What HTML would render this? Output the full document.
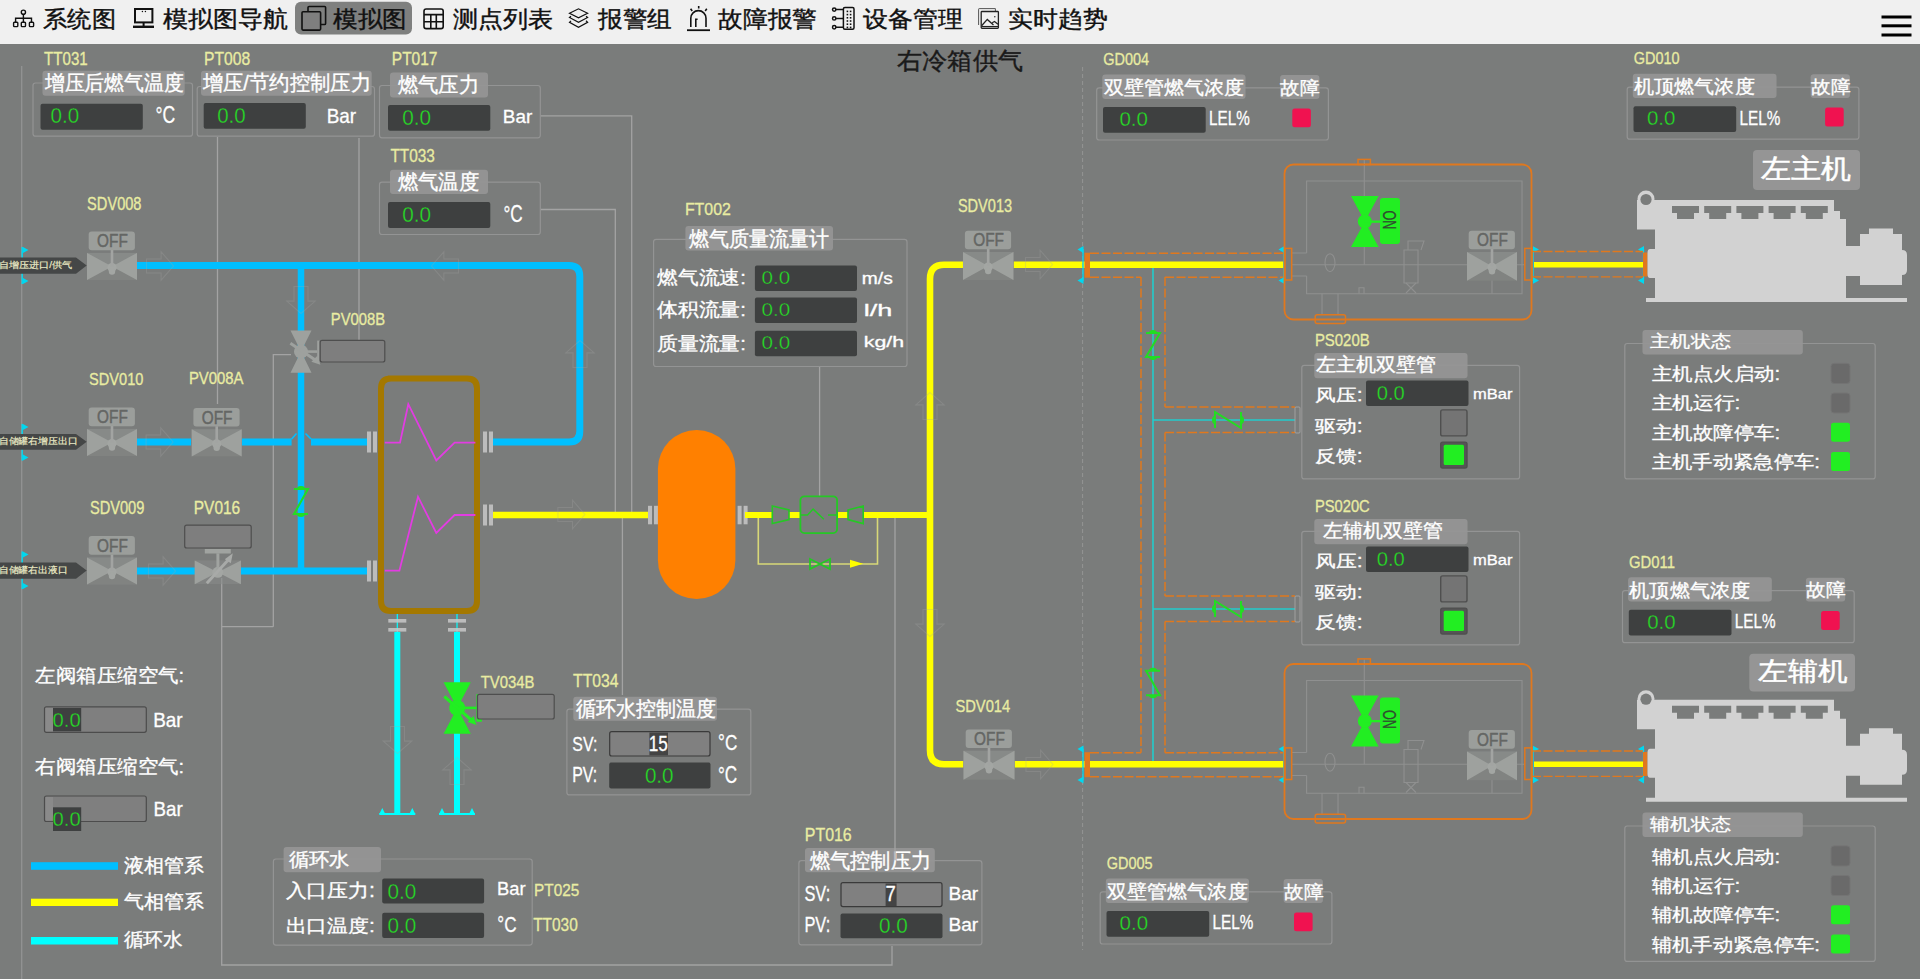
<!DOCTYPE html><html><head><meta charset="utf-8"><style>html,body{margin:0;padding:0;overflow:hidden;background:#7b7b7b}svg{display:block}</style></head><body><svg width="1920" height="979" viewBox="0 0 1920 979" font-family='"Liberation Sans", sans-serif'><rect x="0" y="0" width="1920" height="979" fill="#7a7c7b"/>
<rect x="0.0" y="0.0" width="1920.0" height="44.0" fill="#f0f0f0" />
<rect x="295.0" y="1.8" width="117.0" height="32.8" fill="#7f807f" rx="6" />
<text x="43.2" y="27.0" font-size="22.67" fill="#111" textLength="72.8" lengthAdjust="spacingAndGlyphs" stroke="#111" stroke-width="0.40" >系统图</text>
<text x="162.5" y="27.0" font-size="22.67" fill="#111" textLength="125.1" lengthAdjust="spacingAndGlyphs" stroke="#111" stroke-width="0.40" >模拟图导航</text>
<text x="333.1" y="27.0" font-size="22.67" fill="#111" textLength="73.7" lengthAdjust="spacingAndGlyphs" stroke="#111" stroke-width="0.40" >模拟图</text>
<text x="452.5" y="27.0" font-size="22.67" fill="#111" textLength="100.5" lengthAdjust="spacingAndGlyphs" stroke="#111" stroke-width="0.40" >测点列表</text>
<text x="598.1" y="27.0" font-size="22.67" fill="#111" textLength="73.9" lengthAdjust="spacingAndGlyphs" stroke="#111" stroke-width="0.40" >报警组</text>
<text x="718.0" y="27.0" font-size="22.67" fill="#111" textLength="99.0" lengthAdjust="spacingAndGlyphs" stroke="#111" stroke-width="0.40" >故障报警</text>
<text x="863.2" y="27.0" font-size="22.67" fill="#111" textLength="99.8" lengthAdjust="spacingAndGlyphs" stroke="#111" stroke-width="0.40" >设备管理</text>
<text x="1008.1" y="27.0" font-size="22.67" fill="#111" textLength="99.5" lengthAdjust="spacingAndGlyphs" stroke="#111" stroke-width="0.40" >实时趋势</text>
<rect x="1881.5" y="15.5" width="30.0" height="3.0" fill="#000" />
<rect x="1881.5" y="24.3" width="30.0" height="3.0" fill="#000" />
<rect x="1881.5" y="33.5" width="30.0" height="3.0" fill="#000" />
<text x="897.2" y="69.1" font-size="24.00" fill="#1a1a1a" textLength="125.6" lengthAdjust="spacingAndGlyphs" stroke="#1a1a1a" stroke-width="0.42" >右冷箱供气</text>
<g stroke="#111" fill="none" stroke-width="1.4"><circle cx="23.4" cy="12.2" r="2.1"/><path d="M23.4,14.3 V18.3 M15.6,22.3 V18.3 H31.5 V22.3 M23.4,18.3 V22.3"/><rect x="13.6" y="22.3" width="4.2" height="4.3" rx="0.8"/><rect x="21.3" y="22.3" width="4.2" height="4.3" rx="0.8"/><rect x="29.4" y="22.3" width="4.2" height="4.3" rx="0.8"/></g>
<g fill="none" stroke="#111" stroke-width="2"><rect x="135" y="9" width="17.4" height="13.4"/><path d="M143.6,22.4 V26"/></g><rect x="133" y="25.6" width="21" height="2.4" fill="#111"/><circle cx="142.4" cy="11.5" r="0.7" fill="#111"/><circle cx="145.4" cy="11.5" r="0.7" fill="#111"/>
<g fill="none" stroke="#111" stroke-width="1.6"><path d="M308,11 V7.6 Q308,6.5 309.1,6.5 H324.6 Q325.6,6.5 325.6,7.6 V23.4 Q325.6,24.5 324.5,24.5 H320.8"/><rect x="302" y="11.7" width="18.6" height="18.4" rx="1" fill="#7f7f7f"/></g>
<g fill="none" stroke="#111" stroke-width="1.6"><rect x="424" y="9" width="19.2" height="19.6" rx="2.2"/><path d="M424,14.6 H443.2 M424,21.8 H443.2 M430.8,14.6 V28.6 M436.3,14.6 V28.6"/></g>
<g fill="none" stroke="#111" stroke-width="1.2"><path d="M569.5,13.3 L578.5,8.8 L587.6,13.3 L578.5,17.8 Z"/><path d="M571,16.3 L569.5,17.5 L578.5,22.3 L587.6,17.5 L586,16.3"/><path d="M571,20.8 L569.5,22.3 L578.5,27.3 L587.6,22.3 L586,20.8"/></g>
<g fill="none" stroke="#111" stroke-width="1.6"><path d="M690.8,27 V18.2 A7.6,7.6 0 0 1 706,18.2 V27"/><path d="M695.8,27 V19.3 H697.6"/><path d="M698.7,6 V8.6 M690.6,8.8 L692.2,11 M706.8,8.8 L705.2,11"/></g><rect x="687" y="29.3" width="23" height="1.8" fill="#111"/>
<g fill="none" stroke="#111" stroke-width="1.5"><rect x="843.4" y="7.6" width="10.6" height="21.6" rx="1.5"/><circle cx="834.2" cy="9.6" r="1.7"/><circle cx="834.2" cy="18.4" r="1.7"/><circle cx="834.2" cy="27.2" r="1.7"/><path d="M835.9,9.6 H843.4 M835.9,18.4 H843.4 M835.9,27.2 H843.4"/></g>
<rect x="846.6" y="10.6" width="1.6" height="1.6" fill="#111"/><rect x="846.6" y="13.8" width="1.6" height="1.6" fill="#111"/><rect x="846.6" y="17.0" width="1.6" height="1.6" fill="#111"/><rect x="846.6" y="20.200000000000003" width="1.6" height="1.6" fill="#111"/><rect x="846.6" y="23.4" width="1.6" height="1.6" fill="#111"/><rect x="846.6" y="26.6" width="1.6" height="1.6" fill="#111"/><rect x="849.8000000000001" y="10.6" width="1.6" height="1.6" fill="#111"/><rect x="849.8000000000001" y="13.8" width="1.6" height="1.6" fill="#111"/><rect x="849.8000000000001" y="17.0" width="1.6" height="1.6" fill="#111"/><rect x="849.8000000000001" y="20.200000000000003" width="1.6" height="1.6" fill="#111"/><rect x="849.8000000000001" y="23.4" width="1.6" height="1.6" fill="#111"/><rect x="849.8000000000001" y="26.6" width="1.6" height="1.6" fill="#111"/>
<g fill="none" stroke="#555" stroke-width="1"><path d="M978.6,25 V9.2 Q978.6,8.6 979.2,8.6 H995.4 V11"/></g><g fill="none" stroke="#222" stroke-width="1.3"><rect x="981.2" y="11.5" width="17.2" height="16.8" rx="0.8"/><path d="M981.6,25.8 L987.3,19.4 L993.5,25 M992.2,22.8 L994.5,21.5 L998,24.2"/><path d="M981.4,26.6 H998.2"/></g><circle cx="994.8" cy="16.8" r="0.8" fill="#333"/>
<path d="M21.7,66.0 L21.7,979.0" fill="none" stroke="#a3a3a3" stroke-width="1.3" opacity="0.6"/>
<path d="M217.5,137.0 L217.5,404.0" fill="none" stroke="#a3a3a3" stroke-width="1.3" />
<path d="M540.8,115.8 L631.7,115.8 L631.7,515.0" fill="none" stroke="#a3a3a3" stroke-width="1.3" />
<path d="M540.8,209.5 L615.3,209.5 L615.3,515.0" fill="none" stroke="#a3a3a3" stroke-width="1.3" />
<path d="M359.0,138.0 L359.0,340.4" fill="none" stroke="#a3a3a3" stroke-width="1.3" />
<path d="M273.3,626.7 L273.3,354.6 L291.0,354.6" fill="none" stroke="#a3a3a3" stroke-width="1.3" />
<path d="M221.7,578.0 L221.7,965.0 L892.0,965.0 L892.0,946.0" fill="none" stroke="#a3a3a3" stroke-width="1.3" />
<path d="M221.7,626.7 L273.3,626.7" fill="none" stroke="#a3a3a3" stroke-width="1.3" />
<path d="M622.4,515.0 L622.4,695.0" fill="none" stroke="#a3a3a3" stroke-width="1.3" />
<rect x="33.0" y="83.0" width="159.5" height="53.2" fill="none" rx="2.5" stroke="#9c9c9c" stroke-width="1.2" opacity="0.75"/>
<rect x="42.5" y="70.8" width="142.2" height="25.0" fill="#959595" rx="3" opacity="0.95"/>
<text x="44.1" y="64.8" font-size="17.78" fill="#e9eca2" textLength="43.6" lengthAdjust="spacingAndGlyphs" stroke="#e9eca2" stroke-width="0.3" >TT031</text>
<text x="44.6" y="90.1" font-size="20.78" fill="#fff" textLength="139.4" lengthAdjust="spacingAndGlyphs" stroke="#fff" stroke-width="0.36" >增压后燃气温度</text>
<rect x="40.5" y="103.8" width="102.3" height="25.9" fill="#3e4040" rx="2" />
<text x="50.6" y="123.1" font-size="21.67" fill="#26dc26" textLength="28.6" lengthAdjust="spacingAndGlyphs" stroke="#3e4040" stroke-width="0.3" paint-order="fill">0.0</text>
<text x="155.5" y="123.1" font-size="23.47" fill="#fff" textLength="19.7" lengthAdjust="spacingAndGlyphs" stroke="#fff" stroke-width="0.3" >°C</text>
<rect x="197.2" y="86.5" width="177.3" height="49.7" fill="none" rx="2.5" stroke="#9c9c9c" stroke-width="1.2" opacity="0.75"/>
<rect x="201.0" y="70.7" width="170.7" height="25.0" fill="#959595" rx="3" opacity="0.95"/>
<text x="204.1" y="64.8" font-size="17.78" fill="#e9eca2" textLength="46.1" lengthAdjust="spacingAndGlyphs" stroke="#e9eca2" stroke-width="0.3" >PT008</text>
<text x="202.6" y="90.1" font-size="20.78" fill="#fff" textLength="168.4" lengthAdjust="spacingAndGlyphs" stroke="#fff" stroke-width="0.36" >增压/节约控制压力</text>
<rect x="203.7" y="103.0" width="102.1" height="25.7" fill="#3e4040" rx="2" />
<text x="217.2" y="123.1" font-size="21.67" fill="#26dc26" textLength="28.5" lengthAdjust="spacingAndGlyphs" stroke="#3e4040" stroke-width="0.3" paint-order="fill">0.0</text>
<text x="326.7" y="123.1" font-size="19.58" fill="#fff" textLength="29.5" lengthAdjust="spacingAndGlyphs" stroke="#fff" stroke-width="0.3" >Bar</text>
<rect x="379.5" y="85.5" width="160.8" height="52.3" fill="none" rx="2.5" stroke="#9c9c9c" stroke-width="1.2" opacity="0.75"/>
<rect x="390.0" y="72.5" width="98.0" height="25.0" fill="#959595" rx="3" opacity="0.95"/>
<text x="391.8" y="64.8" font-size="17.78" fill="#e9eca2" textLength="45.7" lengthAdjust="spacingAndGlyphs" stroke="#e9eca2" stroke-width="0.3" >PT017</text>
<text x="397.6" y="92.1" font-size="20.78" fill="#fff" textLength="81.4" lengthAdjust="spacingAndGlyphs" stroke="#fff" stroke-width="0.36" >燃气压力</text>
<rect x="388.0" y="105.0" width="102.3" height="25.8" fill="#3e4040" rx="2" />
<text x="402.2" y="125.1" font-size="21.67" fill="#26dc26" textLength="28.8" lengthAdjust="spacingAndGlyphs" stroke="#3e4040" stroke-width="0.3" paint-order="fill">0.0</text>
<text x="502.8" y="123.1" font-size="18.89" fill="#fff" textLength="29.4" lengthAdjust="spacingAndGlyphs" stroke="#fff" stroke-width="0.3" >Bar</text>
<rect x="379.5" y="182.2" width="160.8" height="52.3" fill="none" rx="2.5" stroke="#9c9c9c" stroke-width="1.2" opacity="0.75"/>
<rect x="390.0" y="169.7" width="98.0" height="24.3" fill="#959595" rx="3" opacity="0.95"/>
<text x="390.4" y="162.3" font-size="17.78" fill="#e9eca2" textLength="44.5" lengthAdjust="spacingAndGlyphs" stroke="#e9eca2" stroke-width="0.3" >TT033</text>
<text x="397.6" y="189.1" font-size="20.78" fill="#fff" textLength="81.4" lengthAdjust="spacingAndGlyphs" stroke="#fff" stroke-width="0.36" >燃气温度</text>
<rect x="388.0" y="202.0" width="102.3" height="26.0" fill="#3e4040" rx="2" />
<text x="402.2" y="222.1" font-size="21.67" fill="#26dc26" textLength="28.8" lengthAdjust="spacingAndGlyphs" stroke="#3e4040" stroke-width="0.3" paint-order="fill">0.0</text>
<text x="503.5" y="221.5" font-size="23.61" fill="#fff" textLength="19.2" lengthAdjust="spacingAndGlyphs" stroke="#fff" stroke-width="0.3" >°C</text>
<path d="M137,265.5 H569 Q579.8,265.5 579.8,276.3 V431.2 Q579.8,442 569,442 H493" fill="none" stroke="#00bfff" stroke-width="7" />
<path d="M301,265.5 V571" fill="none" stroke="#00bfff" stroke-width="6.5" />
<path d="M137,442 H191" fill="none" stroke="#00bfff" stroke-width="7" />
<path d="M242,442 H291.6" fill="none" stroke="#00bfff" stroke-width="7" />
<path d="M311,442 H367" fill="none" stroke="#00bfff" stroke-width="7" />
<path d="M291.6,439 L296.5,433.5 M305.5,433.5 L311,439" fill="none" stroke="#00bfff" stroke-width="1.6" />
<path d="M137,571 H195" fill="none" stroke="#00bfff" stroke-width="7" />
<path d="M241,571 H367" fill="none" stroke="#00bfff" stroke-width="7" />
<path d="M397.3,632 V814" fill="none" stroke="#00ffff" stroke-width="6" />
<path d="M457,632 V814" fill="none" stroke="#00ffff" stroke-width="6" />
<path d="M397.3,614.0 L397.3,632.0" fill="none" stroke="#00ffff" stroke-width="1.2" />
<path d="M457.0,614.0 L457.0,632.0" fill="none" stroke="#00ffff" stroke-width="1.2" />
<path d="M379.3,814.0 L415.3,814.0" fill="none" stroke="#00ffff" stroke-width="2" />
<path d="M379.3,814 l3,-6 l3,6 Z M415.3,814 l-3,-6 l-3,6 Z" fill="#00ffff" />
<path d="M439.0,814.0 L475.0,814.0" fill="none" stroke="#00ffff" stroke-width="2" />
<path d="M439,814 l3,-6 l3,6 Z M475,814 l-3,-6 l-3,6 Z" fill="#00ffff" />
<path d="M493,515 H648" fill="none" stroke="#ffff00" stroke-width="6.5" />
<path d="M388,378.5 H467 Q477,378.5 477,388.5 V601 Q477,611 467,611 H391 Q381,611 381,601 V388.5 Q381,378.5 391,378.5 Z" fill="none" stroke="#a47800" stroke-width="6" />
<path d="M384.8,442.7 L400.0,442.7 L408.3,404.2 L436.3,460.4 L454.6,442.7 L475.4,442.7" fill="none" stroke="#e23ce2" stroke-width="1.8" stroke-linejoin="miter"/>
<path d="M384.8,570.6 L399.4,570.6 L418.0,496.7 L436.3,533.0 L454.6,515.0 L475.4,515.0" fill="none" stroke="#e23ce2" stroke-width="1.8" />
<rect x="367.0" y="431.5" width="4.0" height="21.0" fill="#c8c8c8" opacity="0.85"/>
<rect x="373.0" y="431.5" width="4.0" height="21.0" fill="#c8c8c8" opacity="0.85"/>
<rect x="483.0" y="431.5" width="4.0" height="21.0" fill="#c8c8c8" opacity="0.85"/>
<rect x="489.0" y="431.5" width="4.0" height="21.0" fill="#c8c8c8" opacity="0.85"/>
<rect x="367.0" y="560.5" width="4.0" height="21.0" fill="#c8c8c8" opacity="0.85"/>
<rect x="373.0" y="560.5" width="4.0" height="21.0" fill="#c8c8c8" opacity="0.85"/>
<rect x="483.0" y="504.5" width="4.0" height="21.0" fill="#c8c8c8" opacity="0.85"/>
<rect x="489.0" y="504.5" width="4.0" height="21.0" fill="#c8c8c8" opacity="0.85"/>
<rect x="388.3" y="619.0" width="18.0" height="3.6" fill="#c8c8c8" opacity="0.85"/>
<rect x="388.3" y="628.0" width="18.0" height="3.6" fill="#c8c8c8" opacity="0.85"/>
<rect x="448.0" y="619.0" width="18.0" height="3.6" fill="#c8c8c8" opacity="0.85"/>
<rect x="448.0" y="628.0" width="18.0" height="3.6" fill="#c8c8c8" opacity="0.85"/>
<rect x="87.0" y="252.9" width="50.0" height="13.6" fill="#878a88" />
<rect x="87.0" y="266.5" width="50.0" height="13.6" fill="#818381" />
<path d="M87.0,252.9 L112,266.5 L87.0,280.1 Z M137.0,252.9 L112,266.5 L137.0,280.1 Z" fill="#9ea19e" />
<circle cx="112" cy="267.5" r="4.6" fill="#a3a6a3"/>
<circle cx="112" cy="271.5" r="3.2" fill="#a3a6a3"/>
<rect x="110.7" y="249.9" width="2.6" height="16.6" fill="#a2a4a2" />
<rect x="88.7" y="231.6" width="46.2" height="18.6" fill="#9b9e9b" rx="3" />
<text x="97.1" y="247.3" font-size="18.75" fill="#646664" textLength="30.7" lengthAdjust="spacingAndGlyphs" stroke="#646664" stroke-width="0.5">OFF</text>
<text x="87.1" y="209.8" font-size="17.78" fill="#e9eca2" textLength="54.4" lengthAdjust="spacingAndGlyphs" stroke="#e9eca2" stroke-width="0.3" >SDV008</text>
<rect x="87.0" y="428.9" width="50.0" height="13.6" fill="#878a88" />
<rect x="87.0" y="442.5" width="50.0" height="13.6" fill="#818381" />
<path d="M87.0,428.9 L112,442.5 L87.0,456.1 Z M137.0,428.9 L112,442.5 L137.0,456.1 Z" fill="#9ea19e" />
<circle cx="112" cy="443.5" r="4.6" fill="#a3a6a3"/>
<circle cx="112" cy="447.5" r="3.2" fill="#a3a6a3"/>
<rect x="110.7" y="425.9" width="2.6" height="16.6" fill="#a2a4a2" />
<rect x="88.7" y="407.6" width="46.2" height="18.6" fill="#9b9e9b" rx="3" />
<text x="97.1" y="423.3" font-size="18.75" fill="#646664" textLength="30.7" lengthAdjust="spacingAndGlyphs" stroke="#646664" stroke-width="0.5">OFF</text>
<text x="89.1" y="384.5" font-size="17.36" fill="#e9eca2" textLength="54.3" lengthAdjust="spacingAndGlyphs" stroke="#e9eca2" stroke-width="0.3" >SDV010</text>
<rect x="191.7" y="429.2" width="50.0" height="13.6" fill="#878a88" />
<rect x="191.7" y="442.8" width="50.0" height="13.6" fill="#818381" />
<path d="M191.7,429.2 L216.7,442.8 L191.7,456.40000000000003 Z M241.7,429.2 L216.7,442.8 L241.7,456.40000000000003 Z" fill="#9ea19e" />
<circle cx="216.7" cy="443.8" r="4.6" fill="#a3a6a3"/>
<circle cx="216.7" cy="447.8" r="3.2" fill="#a3a6a3"/>
<rect x="215.4" y="426.2" width="2.6" height="16.6" fill="#a2a4a2" />
<rect x="193.4" y="407.9" width="46.2" height="18.6" fill="#9b9e9b" rx="3" />
<text x="201.8" y="423.6" font-size="18.75" fill="#646664" textLength="30.7" lengthAdjust="spacingAndGlyphs" stroke="#646664" stroke-width="0.5">OFF</text>
<text x="188.9" y="383.8" font-size="16.39" fill="#e9eca2" textLength="54.6" lengthAdjust="spacingAndGlyphs" stroke="#e9eca2" stroke-width="0.3" >PV008A</text>
<rect x="87.0" y="557.4" width="50.0" height="13.6" fill="#878a88" />
<rect x="87.0" y="571.0" width="50.0" height="13.6" fill="#818381" />
<path d="M87.0,557.4 L112,571 L87.0,584.6 Z M137.0,557.4 L112,571 L137.0,584.6 Z" fill="#9ea19e" />
<circle cx="112" cy="572" r="4.6" fill="#a3a6a3"/>
<circle cx="112" cy="576" r="3.2" fill="#a3a6a3"/>
<rect x="110.7" y="554.4" width="2.6" height="16.6" fill="#a2a4a2" />
<rect x="88.7" y="536.1" width="46.2" height="18.6" fill="#9b9e9b" rx="3" />
<text x="97.1" y="551.8" font-size="18.75" fill="#646664" textLength="30.7" lengthAdjust="spacingAndGlyphs" stroke="#646664" stroke-width="0.5">OFF</text>
<text x="89.9" y="514.0" font-size="18.33" fill="#e9eca2" textLength="54.5" lengthAdjust="spacingAndGlyphs" stroke="#e9eca2" stroke-width="0.3" >SDV009</text>
<rect x="194.7" y="560.4" width="46.2" height="23.7" fill="#878a88" opacity="0.6"/>
<path d="M194.70000000000002,560.4499999999999 L217.8,572.3 L194.70000000000002,584.15 Z M240.9,560.4499999999999 L217.8,572.3 L240.9,584.15 Z" fill="#9ea19e" />
<circle cx="217.8" cy="572.3" r="5.5" fill="#a3a6a3"/>
<rect x="216.4" y="553.3" width="3.0" height="19.0" fill="#a0a3a0" />
<rect x="204.8" y="549.0" width="26.0" height="4.5" fill="#a0a3a0" />
<path d="M206.8,583.3 L229.8,558.3" fill="none" stroke="#a8aaa8" stroke-width="3" />
<path d="M232.8,553.3 L224.8,559.3 L230.8,563.3 Z" fill="#a8aaa8" />
<rect x="184.7" y="525.2" width="66.5" height="22.8" fill="#7e7e7e" rx="2" stroke="#4e4e4e" stroke-width="1.2" />
<text x="193.8" y="514.0" font-size="18.33" fill="#e9eca2" textLength="46.4" lengthAdjust="spacingAndGlyphs" stroke="#e9eca2" stroke-width="0.3" >PV016</text>
<g opacity="1">
<path d="M290.5,330.45000000000005 L301,351.6 L311.5,330.45000000000005 Z M290.5,372.75 L301,351.6 L311.5,372.75 Z" fill="#9ea19e" />
<circle cx="301" cy="351.6" r="7" fill="#9ea19e"/>
<rect x="301.0" y="350.3" width="16.2" height="2.6" fill="#9ea19e" />
<rect x="317.2" y="340.6" width="2.2" height="22.0" fill="#9ea19e" />
<path d="M290.4,343.3 L316.4,360.7" fill="none" stroke="#9ea19e" stroke-width="3" />
<path d="M320.4,364.7 L311.4,361.7 L317.4,355.7 Z" fill="#9ea19e" />
</g>
<rect x="320.2" y="340.4" width="64.6" height="21.6" fill="#7e7e7e" rx="2" stroke="#4e4e4e" stroke-width="1.2" />
<text x="330.8" y="324.8" font-size="17.08" fill="#e9eca2" textLength="54.3" lengthAdjust="spacingAndGlyphs" stroke="#e9eca2" stroke-width="0.3" >PV008B</text>
<g opacity="1">
<path d="M443.59999999999997,682.15 L457.2,707.9 L470.8,682.15 Z M443.59999999999997,733.65 L457.2,707.9 L470.8,733.65 Z" fill="#22ee22" />
<circle cx="457.2" cy="707.9" r="8" fill="#22ee22"/>
<rect x="457.2" y="706.6" width="19.3" height="2.6" fill="#22ee22" />
<rect x="476.5" y="694.1" width="5.4" height="27.6" fill="#22ee22" />
<path d="M444.3,696.5 L472.5,721.0" fill="none" stroke="#22ee22" stroke-width="3" />
<path d="M476.5,725 L467.5,722 L473.5,716 Z" fill="#22ee22" />
</g>
<rect x="477.5" y="694.3" width="76.7" height="24.7" fill="#7e7e7e" rx="2" stroke="#4e4e4e" stroke-width="1.2" />
<text x="480.8" y="687.5" font-size="16.67" fill="#e9eca2" textLength="53.7" lengthAdjust="spacingAndGlyphs" stroke="#e9eca2" stroke-width="0.3" >TV034B</text>
<path d="M22.2,247.0 L22.2,284.0" fill="none" stroke="#00d8f0" stroke-width="1.4" />
<path d="M22.5,246.8 L28.5,250 L22.5,253.2 Z" fill="#00d8f0" />
<path d="M22.5,277.8 L28.5,281 L22.5,284.2 Z" fill="#00d8f0" />
<path d="M22.2,424.0 L22.2,460.5" fill="none" stroke="#00d8f0" stroke-width="1.4" />
<path d="M22.5,423.8 L28.5,427 L22.5,430.2 Z" fill="#00d8f0" />
<path d="M22.5,454.3 L28.5,457.5 L22.5,460.7 Z" fill="#00d8f0" />
<path d="M22.2,551.5 L22.2,589.0" fill="none" stroke="#00d8f0" stroke-width="1.4" />
<path d="M22.5,551.3 L28.5,554.5 L22.5,557.7 Z" fill="#00d8f0" />
<path d="M22.5,582.8 L28.5,586 L22.5,589.2 Z" fill="#00d8f0" />
<path d="M0,257.5 H76 L86.7,265.6 L76,273.7 H0 Z" fill="#454747" />
<text x="-1.2" y="268.1" font-size="9.11" fill="#eeeec8" textLength="73.6" lengthAdjust="spacingAndGlyphs" stroke="#eeeec8" stroke-width="0.16" >自增压进口/供气</text>
<path d="M0,434 H76 L86.7,441.85 L76,449.7 H0 Z" fill="#454747" />
<text x="-1.2" y="444.4" font-size="9.11" fill="#eeeec8" textLength="78.6" lengthAdjust="spacingAndGlyphs" stroke="#eeeec8" stroke-width="0.16" >自储罐右增压出口</text>
<path d="M0,562.5 H76 L86.7,570.6 L76,578.7 H0 Z" fill="#454747" />
<text x="-1.2" y="573.1" font-size="9.11" fill="#eeeec8" textLength="68.6" lengthAdjust="spacingAndGlyphs" stroke="#eeeec8" stroke-width="0.16" >自储罐右出液口</text>
<text x="35.4" y="681.9" font-size="18.56" fill="#fff" textLength="148.7" lengthAdjust="spacingAndGlyphs" stroke="#fff" stroke-width="0.32" >左阀箱压缩空气:</text>
<text x="35.4" y="772.7" font-size="18.56" fill="#fff" textLength="148.7" lengthAdjust="spacingAndGlyphs" stroke="#fff" stroke-width="0.32" >右阀箱压缩空气:</text>
<rect x="44.5" y="706.8" width="101.8" height="25.5" fill="#7f7f7f" rx="2" stroke="#4c4c4c" stroke-width="1.2" />
<rect x="45.5" y="707.8" width="7.5" height="23.5" fill="#8a8a8a" />
<rect x="53.0" y="708.0" width="28.2" height="23.3" fill="#3e4040" />
<text x="52.6" y="726.6" font-size="19.86" fill="#26dc26" textLength="28.1" lengthAdjust="spacingAndGlyphs" stroke="#3e4040" stroke-width="0.3" paint-order="fill">0.0</text>
<text x="153.2" y="726.5" font-size="20.14" fill="#fff" textLength="29.5" lengthAdjust="spacingAndGlyphs" stroke="#fff" stroke-width="0.3" >Bar</text>
<rect x="44.5" y="796.0" width="101.8" height="25.5" fill="#7f7f7f" rx="2" stroke="#4c4c4c" stroke-width="1.2" />
<rect x="45.5" y="797.0" width="7.5" height="23.5" fill="#8a8a8a" />
<rect x="53.0" y="807.3" width="28.2" height="23.7" fill="#3e4040" />
<text x="52.6" y="826.3" font-size="20.42" fill="#26dc26" textLength="28.1" lengthAdjust="spacingAndGlyphs" stroke="#3e4040" stroke-width="0.3" paint-order="fill">0.0</text>
<text x="153.5" y="815.8" font-size="20.14" fill="#fff" textLength="29.2" lengthAdjust="spacingAndGlyphs" stroke="#fff" stroke-width="0.3" >Bar</text>
<rect x="31.0" y="862.2" width="87.0" height="7.6" fill="#00bfff" />
<rect x="31.0" y="898.7" width="87.0" height="7.3" fill="#ffff00" />
<rect x="31.0" y="937.0" width="87.0" height="7.5" fill="#00ffff" />
<text x="123.6" y="872.2" font-size="19.00" fill="#fff" textLength="80.2" lengthAdjust="spacingAndGlyphs" stroke="#fff" stroke-width="0.33" >液相管系</text>
<text x="123.6" y="908.3" font-size="18.78" fill="#fff" textLength="80.2" lengthAdjust="spacingAndGlyphs" stroke="#fff" stroke-width="0.33" >气相管系</text>
<text x="123.6" y="946.2" font-size="18.89" fill="#fff" textLength="59.2" lengthAdjust="spacingAndGlyphs" stroke="#fff" stroke-width="0.33" >循环水</text>
<rect x="273.4" y="859.0" width="258.8" height="86.1" fill="none" rx="2.5" stroke="#9c9c9c" stroke-width="1.2" opacity="0.75"/>
<rect x="283.6" y="847.0" width="97.4" height="25.2" fill="#959595" rx="3" opacity="0.95"/>
<text x="288.6" y="865.6" font-size="19.11" fill="#fff" textLength="61.2" lengthAdjust="spacingAndGlyphs" stroke="#fff" stroke-width="0.33" >循环水</text>
<text x="285.6" y="896.6" font-size="19.44" fill="#fff" textLength="89.3" lengthAdjust="spacingAndGlyphs" stroke="#fff" stroke-width="0.34" >入口压力:</text>
<text x="285.6" y="932.3" font-size="18.22" fill="#fff" textLength="89.2" lengthAdjust="spacingAndGlyphs" stroke="#fff" stroke-width="0.32" >出口温度:</text>
<rect x="382.2" y="878.4" width="101.9" height="25.2" fill="#3e4040" rx="2" />
<rect x="382.2" y="912.8" width="101.9" height="25.2" fill="#3e4040" rx="2" />
<text x="387.4" y="898.6" font-size="21.25" fill="#26dc26" textLength="28.8" lengthAdjust="spacingAndGlyphs" stroke="#3e4040" stroke-width="0.3" paint-order="fill">0.0</text>
<text x="387.4" y="933.0" font-size="21.25" fill="#26dc26" textLength="28.8" lengthAdjust="spacingAndGlyphs" stroke="#3e4040" stroke-width="0.3" paint-order="fill">0.0</text>
<text x="497.0" y="895.4" font-size="18.89" fill="#fff" textLength="28.6" lengthAdjust="spacingAndGlyphs" stroke="#fff" stroke-width="0.3" >Bar</text>
<text x="497.3" y="932.1" font-size="22.78" fill="#fff" textLength="19.2" lengthAdjust="spacingAndGlyphs" stroke="#fff" stroke-width="0.3" >°C</text>
<text x="534.1" y="896.1" font-size="17.22" fill="#e9eca2" textLength="45.2" lengthAdjust="spacingAndGlyphs" stroke="#e9eca2" stroke-width="0.3" >PT025</text>
<text x="533.2" y="930.9" font-size="18.61" fill="#e9eca2" textLength="44.6" lengthAdjust="spacingAndGlyphs" stroke="#e9eca2" stroke-width="0.3" >TT030</text>
<rect x="566.9" y="709.2" width="183.9" height="85.7" fill="none" rx="2.5" stroke="#9c9c9c" stroke-width="1.2" opacity="0.75"/>
<rect x="573.3" y="696.8" width="143.7" height="23.9" fill="#959595" rx="3" opacity="0.95"/>
<text x="573.1" y="686.8" font-size="17.92" fill="#e9eca2" textLength="45.5" lengthAdjust="spacingAndGlyphs" stroke="#e9eca2" stroke-width="0.3" >TT034</text>
<text x="575.6" y="716.1" font-size="20.78" fill="#fff" textLength="140.4" lengthAdjust="spacingAndGlyphs" stroke="#fff" stroke-width="0.36" >循环水控制温度</text>
<text x="572.3" y="750.8" font-size="20.97" fill="#fff" textLength="25.0" lengthAdjust="spacingAndGlyphs" stroke="#fff" stroke-width="0.3" >SV:</text>
<text x="572.2" y="782.3" font-size="21.25" fill="#fff" textLength="25.0" lengthAdjust="spacingAndGlyphs" stroke="#fff" stroke-width="0.3" >PV:</text>
<rect x="609.7" y="731.7" width="100.3" height="24.3" fill="#808080" rx="2" stroke="#3a3a3a" stroke-width="1.2" />
<rect x="649.4" y="732.5" width="18.6" height="22.8" fill="#444" />
<text x="648.7" y="751.3" font-size="22.64" fill="#fff" textLength="19.1" lengthAdjust="spacingAndGlyphs" stroke="#fff" stroke-width="0.3" >15</text>
<rect x="609.2" y="762.6" width="101.3" height="25.9" fill="#3e4040" rx="2" />
<text x="644.9" y="782.8" font-size="21.94" fill="#26dc26" textLength="28.7" lengthAdjust="spacingAndGlyphs" stroke="#3e4040" stroke-width="0.3" paint-order="fill">0.0</text>
<text x="718.1" y="749.8" font-size="22.64" fill="#fff" textLength="19.2" lengthAdjust="spacingAndGlyphs" stroke="#fff" stroke-width="0.3" >°C</text>
<text x="718.0" y="783.3" font-size="23.33" fill="#fff" textLength="19.2" lengthAdjust="spacingAndGlyphs" stroke="#fff" stroke-width="0.3" >°C</text>
<rect x="798.9" y="860.7" width="183.0" height="84.1" fill="none" rx="2.5" stroke="#9c9c9c" stroke-width="1.2" opacity="0.75"/>
<rect x="805.0" y="848.0" width="129.8" height="24.3" fill="#959595" rx="3" opacity="0.95"/>
<text x="804.8" y="840.6" font-size="17.78" fill="#e9eca2" textLength="46.9" lengthAdjust="spacingAndGlyphs" stroke="#e9eca2" stroke-width="0.3" >PT016</text>
<text x="809.6" y="867.6" font-size="20.78" fill="#fff" textLength="121.4" lengthAdjust="spacingAndGlyphs" stroke="#fff" stroke-width="0.36" >燃气控制压力</text>
<text x="804.4" y="901.3" font-size="21.25" fill="#fff" textLength="25.8" lengthAdjust="spacingAndGlyphs" stroke="#fff" stroke-width="0.3" >SV:</text>
<text x="804.4" y="932.3" font-size="21.25" fill="#fff" textLength="25.8" lengthAdjust="spacingAndGlyphs" stroke="#fff" stroke-width="0.3" >PV:</text>
<rect x="841.0" y="882.7" width="101.0" height="23.9" fill="#808080" rx="2" stroke="#3a3a3a" stroke-width="1.2" />
<rect x="885.6" y="883.5" width="11.0" height="22.5" fill="#444" />
<text x="885.4" y="901.3" font-size="21.25" fill="#fff" textLength="10.3" lengthAdjust="spacingAndGlyphs" stroke="#fff" stroke-width="0.3" >7</text>
<rect x="840.5" y="913.4" width="102.0" height="24.9" fill="#3e4040" rx="2" />
<text x="878.9" y="933.3" font-size="21.94" fill="#26dc26" textLength="28.8" lengthAdjust="spacingAndGlyphs" stroke="#3e4040" stroke-width="0.3" paint-order="fill">0.0</text>
<text x="948.4" y="899.8" font-size="19.17" fill="#fff" textLength="29.8" lengthAdjust="spacingAndGlyphs" stroke="#fff" stroke-width="0.3" >Bar</text>
<text x="948.4" y="930.8" font-size="19.17" fill="#fff" textLength="29.8" lengthAdjust="spacingAndGlyphs" stroke="#fff" stroke-width="0.3" >Bar</text>
<rect x="653.6" y="239.3" width="253.4" height="127.2" fill="none" rx="2.5" stroke="#9c9c9c" stroke-width="1.2" opacity="0.75"/>
<rect x="685.4" y="226.0" width="147.6" height="24.5" fill="#959595" rx="3" opacity="0.95"/>
<text x="684.9" y="214.5" font-size="17.36" fill="#e9eca2" textLength="46.0" lengthAdjust="spacingAndGlyphs" stroke="#e9eca2" stroke-width="0.3" >FT002</text>
<text x="688.6" y="245.6" font-size="20.78" fill="#fff" textLength="140.4" lengthAdjust="spacingAndGlyphs" stroke="#fff" stroke-width="0.36" >燃气质量流量计</text>
<text x="657.2" y="284.1" font-size="18.56" fill="#fff" textLength="88.6" lengthAdjust="spacingAndGlyphs" stroke="#fff" stroke-width="0.32" >燃气流速:</text>
<rect x="754.9" y="265.4" width="102.1" height="25.5" fill="#3e4040" rx="2" />
<text x="761.5" y="284.0" font-size="18.75" fill="#26dc26" textLength="28.7" lengthAdjust="spacingAndGlyphs" stroke="#3e4040" stroke-width="0.3" paint-order="fill">0.0</text>
<text x="861.8" y="284.0" font-size="15.97" fill="#fff" textLength="31.0" lengthAdjust="spacingAndGlyphs" stroke="#fff" stroke-width="0.3" >m/s</text>
<text x="657.2" y="316.2" font-size="18.56" fill="#fff" textLength="88.6" lengthAdjust="spacingAndGlyphs" stroke="#fff" stroke-width="0.32" >体积流量:</text>
<rect x="754.9" y="297.5" width="102.1" height="25.5" fill="#3e4040" rx="2" />
<text x="761.5" y="316.1" font-size="18.75" fill="#26dc26" textLength="28.7" lengthAdjust="spacingAndGlyphs" stroke="#3e4040" stroke-width="0.3" paint-order="fill">0.0</text>
<text x="863.8" y="315.7" font-size="16.11" fill="#fff" textLength="28.6" lengthAdjust="spacingAndGlyphs" stroke="#fff" stroke-width="0.3" >l/h</text>
<text x="657.2" y="349.5" font-size="18.56" fill="#fff" textLength="88.6" lengthAdjust="spacingAndGlyphs" stroke="#fff" stroke-width="0.32" >质量流量:</text>
<rect x="754.9" y="330.8" width="102.1" height="25.5" fill="#3e4040" rx="2" />
<text x="761.5" y="349.4" font-size="18.75" fill="#26dc26" textLength="28.7" lengthAdjust="spacingAndGlyphs" stroke="#3e4040" stroke-width="0.3" paint-order="fill">0.0</text>
<text x="863.8" y="347.4" font-size="15.38" fill="#fff" textLength="40.3" lengthAdjust="spacingAndGlyphs" stroke="#fff" stroke-width="0.3" >kg/h</text>
<path d="M819.6,367.0 L819.6,496.0" fill="none" stroke="#a3a3a3" stroke-width="1.3" />
<path d="M895.0,515.0 L895.0,860.2" fill="none" stroke="#a3a3a3" stroke-width="1.3" />
<rect x="648.0" y="505.8" width="4.0" height="18.5" fill="#c8c8c8" opacity="0.85"/>
<rect x="654.0" y="505.8" width="4.0" height="18.5" fill="#c8c8c8" opacity="0.85"/>
<rect x="657.9" y="430" width="77.5" height="169" rx="38.7" ry="38.7" fill="#ff8000"/>
<rect x="737.6" y="505.8" width="4.0" height="18.5" fill="#c8c8c8" opacity="0.85"/>
<rect x="743.6" y="505.8" width="4.0" height="18.5" fill="#c8c8c8" opacity="0.85"/>
<path d="M745,515 H772.3 M789,515 H800.4 M837,515 H848 M863.2,515 H930" fill="none" stroke="#ffff00" stroke-width="5.8" />
<path d="M772.3,506 L789,510 V519.6 L772.3,523.6 Z" fill="none" stroke="#25c825" stroke-width="1.6" />
<path d="M848,510 L863.2,506 V523.6 L848,519.6 Z" fill="none" stroke="#25c825" stroke-width="1.6" />
<rect x="800.4" y="496.3" width="36.7" height="36.8" fill="none" rx="4" stroke="#25c825" stroke-width="1.8" />
<path d="M800.4,515.0 L807.5,515.0 L813.1,509.1 L823.9,519.3" fill="none" stroke="#25c825" stroke-width="1.5" />
<path d="M828.0,515.0 L837.0,515.0" fill="none" stroke="#25c825" stroke-width="1.5" />
<path d="M758.3,518.0 L758.3,564.0 L877.5,564.0 L877.5,518.0" fill="none" stroke="#d8d878" stroke-width="1.6" />
<path d="M810,559 L820,564 L810,569 Z M830,559 L820,564 L830,569 Z" fill="none" stroke="#25c825" stroke-width="1.8" />
<path d="M850,559.7 L863.2,563.8 L850,567.8 Z" fill="#ffff00" />
<path d="M930,515 V279 Q930,264.8 944,264.8 H963" fill="none" stroke="#ffff00" stroke-width="6.6" />
<path d="M1013.5,264.8 H1283.5" fill="none" stroke="#ffff00" stroke-width="6.6" />
<path d="M930,515 V750 Q930,764.2 944,764.2 H963.5" fill="none" stroke="#ffff00" stroke-width="6.6" />
<path d="M1014.6,764.2 H1283.5" fill="none" stroke="#ffff00" stroke-width="6.6" />
<rect x="963.0" y="252.0" width="50.5" height="14.0" fill="#878a88" />
<rect x="963.0" y="266.0" width="50.5" height="14.0" fill="#818381" />
<path d="M962.95,252.0 L988.2,266 L962.95,280.0 Z M1013.45,252.0 L988.2,266 L1013.45,280.0 Z" fill="#9ea19e" />
<circle cx="988.2" cy="267" r="4.6" fill="#a3a6a3"/>
<circle cx="988.2" cy="271" r="3.2" fill="#a3a6a3"/>
<rect x="986.9" y="249.0" width="2.6" height="17.0" fill="#a2a4a2" />
<rect x="964.9" y="230.7" width="46.2" height="18.6" fill="#9b9e9b" rx="3" />
<text x="973.3" y="246.4" font-size="18.75" fill="#646664" textLength="30.7" lengthAdjust="spacingAndGlyphs" stroke="#646664" stroke-width="0.5">OFF</text>
<text x="957.9" y="212.1" font-size="17.78" fill="#e9eca2" textLength="54.2" lengthAdjust="spacingAndGlyphs" stroke="#e9eca2" stroke-width="0.3" >SDV013</text>
<rect x="963.5" y="750.7" width="51.0" height="14.5" fill="#878a88" />
<rect x="963.5" y="765.2" width="51.0" height="14.5" fill="#818381" />
<path d="M963.5,750.7 L989,765.2 L963.5,779.7 Z M1014.5,750.7 L989,765.2 L1014.5,779.7 Z" fill="#9ea19e" />
<circle cx="989" cy="766.2" r="4.6" fill="#a3a6a3"/>
<circle cx="989" cy="770.2" r="3.2" fill="#a3a6a3"/>
<rect x="987.7" y="747.7" width="2.6" height="17.5" fill="#a2a4a2" />
<rect x="965.7" y="729.4" width="46.2" height="18.6" fill="#9b9e9b" rx="3" />
<text x="974.1" y="745.1" font-size="18.75" fill="#646664" textLength="30.7" lengthAdjust="spacingAndGlyphs" stroke="#646664" stroke-width="0.5">OFF</text>
<text x="955.4" y="711.8" font-size="17.08" fill="#e9eca2" textLength="54.8" lengthAdjust="spacingAndGlyphs" stroke="#e9eca2" stroke-width="0.3" >SDV014</text>
<path d="M1082.6,67.0 L1082.6,950.0" fill="none" stroke="#a5a5a5" stroke-width="1" stroke-dasharray="4,3" opacity="0.6"/>
<path d="M1090.0,253.2 L1283.0,253.2" fill="none" stroke="#e0781e" stroke-width="1.5" stroke-dasharray="9,2.5"/>
<path d="M1090.0,277.2 L1141.0,277.2" fill="none" stroke="#e0781e" stroke-width="1.5" stroke-dasharray="9,2.5"/>
<path d="M1165.0,277.2 L1283.0,277.2" fill="none" stroke="#e0781e" stroke-width="1.5" stroke-dasharray="9,2.5"/>
<rect x="1084.5" y="252.7" width="5.5" height="25.0" fill="#e0781e" />
<path d="M1090.0,752.7 L1141.0,752.7" fill="none" stroke="#e0781e" stroke-width="1.5" stroke-dasharray="9,2.5"/>
<path d="M1165.0,752.7 L1283.0,752.7" fill="none" stroke="#e0781e" stroke-width="1.5" stroke-dasharray="9,2.5"/>
<path d="M1090.0,776.7 L1283.0,776.7" fill="none" stroke="#e0781e" stroke-width="1.5" stroke-dasharray="9,2.5"/>
<rect x="1084.5" y="752.2" width="5.5" height="25.0" fill="#e0781e" />
<path d="M1141.0,277.0 L1141.0,752.7" fill="none" stroke="#e0781e" stroke-width="1.5" stroke-dasharray="9,2.5"/>
<path d="M1165.0,277.0 L1165.0,407.0" fill="none" stroke="#e0781e" stroke-width="1.5" stroke-dasharray="9,2.5"/>
<path d="M1165.0,407.0 L1295.0,407.0" fill="none" stroke="#e0781e" stroke-width="1.5" stroke-dasharray="9,2.5"/>
<path d="M1165.0,432.5 L1295.0,432.5" fill="none" stroke="#e0781e" stroke-width="1.5" stroke-dasharray="9,2.5"/>
<path d="M1165.0,432.5 L1165.0,596.0" fill="none" stroke="#e0781e" stroke-width="1.5" stroke-dasharray="9,2.5"/>
<path d="M1165.0,596.0 L1295.0,596.0" fill="none" stroke="#e0781e" stroke-width="1.5" stroke-dasharray="9,2.5"/>
<path d="M1165.0,621.5 L1295.0,621.5" fill="none" stroke="#e0781e" stroke-width="1.5" stroke-dasharray="9,2.5"/>
<path d="M1165.0,621.5 L1165.0,752.7" fill="none" stroke="#e0781e" stroke-width="1.5" stroke-dasharray="9,2.5"/>
<path d="M1153.0,268.0 L1153.0,761.0" fill="none" stroke="#22cccc" stroke-width="1.6" />
<path d="M1153.0,420.0 L1295.0,420.0" fill="none" stroke="#22cccc" stroke-width="1.6" />
<path d="M1153.0,609.0 L1295.0,609.0" fill="none" stroke="#22cccc" stroke-width="1.6" />
<rect x="1295.0" y="407.0" width="5.0" height="26.0" fill="none" rx="1" stroke="#aaaaaa" stroke-width="1" opacity="0.8"/>
<rect x="1295.0" y="596.0" width="5.0" height="26.0" fill="none" rx="1" stroke="#aaaaaa" stroke-width="1" opacity="0.8"/>
<path d="M1146,333 H1160 L1146,357 H1160" fill="none" stroke="#22dd22" stroke-width="2" />
<path d="M1149,333 a4,3 0 0 1 8,0 Z M1149,357 a4,3 0 0 0 8,0 Z" fill="#22dd22" />
<path d="M1160,670.7 H1146 L1160,695.2 H1146" fill="none" stroke="#22dd22" stroke-width="2" />
<path d="M1149,670.7 a4,3 0 0 1 8,0 Z M1149,695.2 a4,3 0 0 0 8,0 Z" fill="#22dd22" />
<path d="M1215,428 V412 L1241,428 V412" fill="none" stroke="#22dd22" stroke-width="2" />
<path d="M1215,416 a3,4 0 0 0 0,8 Z M1241,416 a3,4 0 0 1 0,8 Z" fill="#22dd22" />
<path d="M1215,617 V601 L1241,617 V601" fill="none" stroke="#22dd22" stroke-width="2" />
<path d="M1215,605 a3,4 0 0 0 0,8 Z M1241,605 a3,4 0 0 1 0,8 Z" fill="#22dd22" />
<path d="M294,489 H308 L294,514 H308" fill="none" stroke="#22dd22" stroke-width="2" />
<path d="M297,489 a4,3 0 0 1 8,0 Z M297,514 a4,3 0 0 0 8,0 Z" fill="#22dd22" />
<path d="M1083.0,249.0 L1083.0,281.0" fill="none" stroke="#00d8f0" stroke-width="1.3" />
<path d="M1083.5,246.1 L1077.5,249.5 L1083.5,252.9 Z" fill="#00d8f0" />
<path d="M1083.5,277.1 L1077.5,280.5 L1083.5,283.9 Z" fill="#00d8f0" />
<path d="M1284.0,249.0 L1284.0,281.0" fill="none" stroke="#00d8f0" stroke-width="1.3" />
<path d="M1284.5,246.1 L1278.5,249.5 L1284.5,252.9 Z" fill="#00d8f0" />
<path d="M1284.5,277.1 L1278.5,280.5 L1284.5,283.9 Z" fill="#00d8f0" />
<path d="M1533.0,249.0 L1533.0,281.0" fill="none" stroke="#00d8f0" stroke-width="1.3" />
<path d="M1533,246.3 L1539,249.5 L1533,252.7 Z" fill="#00d8f0" />
<path d="M1533,277.3 L1539,280.5 L1533,283.7 Z" fill="#00d8f0" />
<path d="M1643.5,249.0 L1643.5,281.0" fill="none" stroke="#00d8f0" stroke-width="1.3" />
<path d="M1644,246.1 L1638,249.5 L1644,252.9 Z" fill="#00d8f0" />
<path d="M1644,277.1 L1638,280.5 L1644,283.9 Z" fill="#00d8f0" />
<path d="M1083.0,748.5 L1083.0,780.5" fill="none" stroke="#00d8f0" stroke-width="1.3" />
<path d="M1083.5,745.6 L1077.5,749.0 L1083.5,752.4 Z" fill="#00d8f0" />
<path d="M1083.5,776.6 L1077.5,780.0 L1083.5,783.4 Z" fill="#00d8f0" />
<path d="M1284.0,748.5 L1284.0,780.5" fill="none" stroke="#00d8f0" stroke-width="1.3" />
<path d="M1284.5,745.6 L1278.5,749.0 L1284.5,752.4 Z" fill="#00d8f0" />
<path d="M1284.5,776.6 L1278.5,780.0 L1284.5,783.4 Z" fill="#00d8f0" />
<path d="M1533.0,748.5 L1533.0,780.5" fill="none" stroke="#00d8f0" stroke-width="1.3" />
<path d="M1533,745.8 L1539,749.0 L1533,752.2 Z" fill="#00d8f0" />
<path d="M1533,776.8 L1539,780.0 L1533,783.2 Z" fill="#00d8f0" />
<path d="M1643.5,748.5 L1643.5,780.5" fill="none" stroke="#00d8f0" stroke-width="1.3" />
<path d="M1644,745.6 L1638,749.0 L1644,752.4 Z" fill="#00d8f0" />
<path d="M1644,776.6 L1638,780.0 L1644,783.4 Z" fill="#00d8f0" />
<rect x="1284.5" y="164.5" width="247.0" height="155.0" fill="none" rx="9" stroke="#e0781e" stroke-width="1.8" />
<g stroke="#9e9e9e" stroke-width="1.1" fill="none" opacity="0.6">
<path d="M1306.6,253 V181 H1522 V293.8 H1306.6 V276"/>
<path d="M1291,264.7 H1467 M1517,264.7 H1525"/>
<path d="M1291,253 H1306.6 M1291,276 H1306.6"/>
<path d="M1364.3,160 V264.7"/>
<path d="M1322,293.8 V315 M1338,293.8 V315"/>
<ellipse cx="1330" cy="262.7" rx="5" ry="9"/>
<path d="M1404,250 V283 H1418 V250 Z M1408,250 V241 H1424 L1421,250"/>
<path d="M1406,283 L1416,293 M1416,283 L1406,293"/>
<path d="M1492,280 V293.8"/>
<path d="M1359,293.8 v-6 h5 v6"/>
</g>
<rect x="1285.0" y="248.4" width="6.7" height="31.6" fill="none" stroke="#e0781e" stroke-width="1.5" />
<rect x="1524.8" y="248.4" width="7.2" height="31.6" fill="none" stroke="#e0781e" stroke-width="1.5" />
<rect x="1358.0" y="159.4" width="12.4" height="5.1" fill="none" stroke="#e0781e" stroke-width="1.5" />
<rect x="1315.2" y="314.8" width="30.3" height="8.8" fill="none" rx="2" stroke="#e0781e" stroke-width="1.5" />
<path d="M1351,196 H1378.6 L1364.8,221.5 Z M1351,247 H1378.6 L1364.8,221.5 Z" fill="#22ee22" />
<circle cx="1364.8" cy="221.5" r="7" fill="#22ee22"/>
<rect x="1364.8" y="220.5" width="16.2" height="2.3" fill="#22ee22" />
<rect x="1380.0" y="198.0" width="20.0" height="46.0" fill="#22ee22" rx="3" />
<text x="0" y="0" font-size="17.5" fill="#2f4a2f" stroke="#2f4a2f" stroke-width="0.3" transform="translate(1382.6,210.5) rotate(90)" textLength="19" lengthAdjust="spacingAndGlyphs">ON</text>
<rect x="1467.0" y="252.0" width="50.0" height="14.3" fill="#878a88" />
<rect x="1467.0" y="266.3" width="50.0" height="14.4" fill="#818381" />
<path d="M1467.0,251.95000000000002 L1492,266.3 L1467.0,280.65000000000003 Z M1517.0,251.95000000000002 L1492,266.3 L1517.0,280.65000000000003 Z" fill="#9ea19e" />
<circle cx="1492" cy="267.3" r="4.6" fill="#a3a6a3"/>
<circle cx="1492" cy="271.3" r="3.2" fill="#a3a6a3"/>
<rect x="1490.7" y="249.0" width="2.6" height="17.3" fill="#a2a4a2" />
<rect x="1468.7" y="230.7" width="46.2" height="18.6" fill="#9b9e9b" rx="3" />
<text x="1477.1" y="246.4" font-size="18.75" fill="#646664" textLength="30.7" lengthAdjust="spacingAndGlyphs" stroke="#646664" stroke-width="0.5">OFF</text>
<rect x="1284.5" y="664.0" width="247.0" height="155.0" fill="none" rx="9" stroke="#e0781e" stroke-width="1.8" />
<g stroke="#9e9e9e" stroke-width="1.1" fill="none" opacity="0.6">
<path d="M1306.6,752.5 V680.5 H1522 V793.3 H1306.6 V775.5"/>
<path d="M1291,764.2 H1467 M1517,764.2 H1525"/>
<path d="M1291,752.5 H1306.6 M1291,775.5 H1306.6"/>
<path d="M1364.3,659.5 V764.2"/>
<path d="M1322,793.3 V814.5 M1338,793.3 V814.5"/>
<ellipse cx="1330" cy="762.2" rx="5" ry="9"/>
<path d="M1404,749.5 V782.5 H1418 V749.5 Z M1408,749.5 V740.5 H1424 L1421,749.5"/>
<path d="M1406,782.5 L1416,792.5 M1416,782.5 L1406,792.5"/>
<path d="M1492,779.5 V793.3"/>
<path d="M1359,793.3 v-6 h5 v6"/>
</g>
<rect x="1285.0" y="747.9" width="6.7" height="31.6" fill="none" stroke="#e0781e" stroke-width="1.5" />
<rect x="1524.8" y="747.9" width="7.2" height="31.6" fill="none" stroke="#e0781e" stroke-width="1.5" />
<rect x="1358.0" y="658.9" width="12.4" height="5.1" fill="none" stroke="#e0781e" stroke-width="1.5" />
<rect x="1315.2" y="814.3" width="30.3" height="8.8" fill="none" rx="2" stroke="#e0781e" stroke-width="1.5" />
<path d="M1351,695.5 H1378.6 L1364.8,721.0 Z M1351,746.5 H1378.6 L1364.8,721.0 Z" fill="#22ee22" />
<circle cx="1364.8" cy="721.0" r="7" fill="#22ee22"/>
<rect x="1364.8" y="720.0" width="16.2" height="2.3" fill="#22ee22" />
<rect x="1380.0" y="697.5" width="20.0" height="46.0" fill="#22ee22" rx="3" />
<text x="0" y="0" font-size="17.5" fill="#2f4a2f" stroke="#2f4a2f" stroke-width="0.3" transform="translate(1382.6,710.0) rotate(90)" textLength="19" lengthAdjust="spacingAndGlyphs">ON</text>
<rect x="1467.0" y="751.4" width="50.0" height="14.4" fill="#878a88" />
<rect x="1467.0" y="765.8" width="50.0" height="14.4" fill="#818381" />
<path d="M1467.0,751.4499999999999 L1492,765.8 L1467.0,780.15 Z M1517.0,751.4499999999999 L1492,765.8 L1517.0,780.15 Z" fill="#9ea19e" />
<circle cx="1492" cy="766.8" r="4.6" fill="#a3a6a3"/>
<circle cx="1492" cy="770.8" r="3.2" fill="#a3a6a3"/>
<rect x="1490.7" y="748.4" width="2.6" height="17.4" fill="#a2a4a2" />
<rect x="1468.7" y="730.1" width="46.2" height="18.6" fill="#9b9e9b" rx="3" />
<text x="1477.1" y="745.8" font-size="18.75" fill="#646664" textLength="30.7" lengthAdjust="spacingAndGlyphs" stroke="#646664" stroke-width="0.5">OFF</text>
<path d="M1534,264.7 H1643" fill="none" stroke="#ffff00" stroke-width="5.6" />
<path d="M1532.0,251.5 L1643.0,251.5" fill="none" stroke="#e0781e" stroke-width="1.4" stroke-dasharray="9,2.5"/>
<path d="M1532.0,276.9 L1643.0,276.9" fill="none" stroke="#e0781e" stroke-width="1.4" stroke-dasharray="9,2.5"/>
<rect x="1643.0" y="252.5" width="4.5" height="24.0" fill="#e0781e" />
<path d="M1534,764.2 H1643" fill="none" stroke="#ffff00" stroke-width="5.6" />
<path d="M1532.0,751.0 L1643.0,751.0" fill="none" stroke="#e0781e" stroke-width="1.4" stroke-dasharray="9,2.5"/>
<path d="M1532.0,776.4 L1643.0,776.4" fill="none" stroke="#e0781e" stroke-width="1.4" stroke-dasharray="9,2.5"/>
<rect x="1643.0" y="752.0" width="4.5" height="24.0" fill="#e0781e" />
<path d="M1637,200 H1834 V211 H1840 V219 H1846 V246 H1860 V234 H1869 V228.5 H1893 V234 H1902 V250 Q1907,250 1907,255 V270 Q1907,275 1902,275 V285 H1860 V276 H1846 V298 H1907 V302 H1646 V298 H1655 V278 H1650 Q1647.5,278 1647.5,274 V253 Q1647.5,249 1650,249 H1655 V229.6 H1637 Z" fill="#d2d2d2" />
<circle cx="1646" cy="199" r="8.5" fill="#d2d2d2"/>
<circle cx="1646" cy="199.5" r="5.6" fill="#7a7c7b"/>
<path d="M1672.0,206 H1699.0 V213 H1694.0 V219 H1677.0 V213 H1672.0 Z" fill="#7a7c7b" />
<path d="M1704.2,206 H1731.2 V213 H1726.2 V219 H1709.2 V213 H1704.2 Z" fill="#7a7c7b" />
<path d="M1736.4,206 H1763.4 V213 H1758.4 V219 H1741.4 V213 H1736.4 Z" fill="#7a7c7b" />
<path d="M1768.6,206 H1795.6 V213 H1790.6 V219 H1773.6 V213 H1768.6 Z" fill="#7a7c7b" />
<path d="M1800.8,206 H1827.8 V213 H1822.8 V219 H1805.8 V213 H1800.8 Z" fill="#7a7c7b" />
<path d="M1637,699.7 H1834 V710.7 H1840 V718.7 H1846 V745.7 H1860 V733.7 H1869 V728.2 H1893 V733.7 H1902 V749.7 Q1907,749.7 1907,754.7 V769.7 Q1907,774.7 1902,774.7 V784.7 H1860 V775.7 H1846 V797.7 H1907 V801.7 H1646 V797.7 H1655 V777.7 H1650 Q1647.5,777.7 1647.5,773.7 V752.7 Q1647.5,748.7 1650,748.7 H1655 V729.3 H1637 Z" fill="#d2d2d2" />
<circle cx="1646" cy="698.7" r="8.5" fill="#d2d2d2"/>
<circle cx="1646" cy="699.2" r="5.6" fill="#7a7c7b"/>
<path d="M1672.0,705.7 H1699.0 V712.7 H1694.0 V718.7 H1677.0 V712.7 H1672.0 Z" fill="#7a7c7b" />
<path d="M1704.2,705.7 H1731.2 V712.7 H1726.2 V718.7 H1709.2 V712.7 H1704.2 Z" fill="#7a7c7b" />
<path d="M1736.4,705.7 H1763.4 V712.7 H1758.4 V718.7 H1741.4 V712.7 H1736.4 Z" fill="#7a7c7b" />
<path d="M1768.6,705.7 H1795.6 V712.7 H1790.6 V718.7 H1773.6 V712.7 H1768.6 Z" fill="#7a7c7b" />
<path d="M1800.8,705.7 H1827.8 V712.7 H1822.8 V718.7 H1805.8 V712.7 H1800.8 Z" fill="#7a7c7b" />
<rect x="1753.0" y="150.0" width="107.0" height="40.0" fill="#959595" rx="4" />
<text x="1761.2" y="177.9" font-size="26.89" fill="#fff" textLength="90.2" lengthAdjust="spacingAndGlyphs" stroke="#fff" stroke-width="0.47" >左主机</text>
<rect x="1749.3" y="653.8" width="105.7" height="37.8" fill="#959595" rx="4" />
<text x="1758.2" y="680.3" font-size="26.11" fill="#fff" textLength="89.0" lengthAdjust="spacingAndGlyphs" stroke="#fff" stroke-width="0.46" >左辅机</text>
<rect x="1096.7" y="87.9" width="231.7" height="52.1" fill="none" rx="2.5" stroke="#9c9c9c" stroke-width="1.2" opacity="0.75"/>
<rect x="1102.3" y="74.5" width="143.2" height="24.4" fill="#959595" rx="3" opacity="0.95"/>
<text x="1103.2" y="64.8" font-size="17.22" fill="#e9eca2" textLength="45.9" lengthAdjust="spacingAndGlyphs" stroke="#e9eca2" stroke-width="0.3" >GD004</text>
<text x="1103.6" y="93.9" font-size="18.67" fill="#fff" textLength="140.5" lengthAdjust="spacingAndGlyphs" stroke="#fff" stroke-width="0.33" >双壁管燃气浓度</text>
<rect x="1280.1" y="75.0" width="39.3" height="23.9" fill="#959595" rx="3" opacity="0.95"/>
<text x="1280.3" y="93.5" font-size="18.22" fill="#fff" textLength="39.5" lengthAdjust="spacingAndGlyphs" stroke="#fff" stroke-width="0.32" >故障</text>
<rect x="1103.0" y="107.0" width="102.7" height="25.8" fill="#3e4040" rx="2" />
<text x="1119.4" y="125.8" font-size="20.14" fill="#26dc26" textLength="28.5" lengthAdjust="spacingAndGlyphs" stroke="#3e4040" stroke-width="0.3" paint-order="fill">0.0</text>
<text x="1209.0" y="125.4" font-size="19.31" fill="#fff" textLength="40.7" lengthAdjust="spacingAndGlyphs" stroke="#fff" stroke-width="0.3" >LEL%</text>
<rect x="1292.3" y="108.4" width="18.6" height="18.9" fill="#f01250" rx="2.5" />
<rect x="1627.2" y="87.1" width="231.7" height="52.1" fill="none" rx="2.5" stroke="#9c9c9c" stroke-width="1.2" opacity="0.75"/>
<rect x="1632.8" y="73.7" width="143.7" height="24.4" fill="#959595" rx="3" opacity="0.95"/>
<text x="1633.7" y="64.0" font-size="17.22" fill="#e9eca2" textLength="45.9" lengthAdjust="spacingAndGlyphs" stroke="#e9eca2" stroke-width="0.3" >GD010</text>
<text x="1634.1" y="93.1" font-size="18.67" fill="#fff" textLength="120.6" lengthAdjust="spacingAndGlyphs" stroke="#fff" stroke-width="0.33" >机顶燃气浓度</text>
<rect x="1810.6" y="74.2" width="39.3" height="23.9" fill="#959595" rx="3" opacity="0.95"/>
<text x="1810.8" y="92.7" font-size="18.22" fill="#fff" textLength="39.5" lengthAdjust="spacingAndGlyphs" stroke="#fff" stroke-width="0.32" >故障</text>
<rect x="1633.5" y="106.2" width="102.7" height="25.8" fill="#3e4040" rx="2" />
<text x="1646.9" y="125.0" font-size="20.14" fill="#26dc26" textLength="28.5" lengthAdjust="spacingAndGlyphs" stroke="#3e4040" stroke-width="0.3" paint-order="fill">0.0</text>
<text x="1739.5" y="124.6" font-size="19.31" fill="#fff" textLength="40.7" lengthAdjust="spacingAndGlyphs" stroke="#fff" stroke-width="0.3" >LEL%</text>
<rect x="1825.1" y="107.6" width="18.6" height="18.9" fill="#f01250" rx="2.5" />
<rect x="1622.5" y="590.6" width="231.7" height="52.1" fill="none" rx="2.5" stroke="#9c9c9c" stroke-width="1.2" opacity="0.75"/>
<rect x="1628.1" y="577.2" width="143.7" height="24.4" fill="#959595" rx="3" opacity="0.95"/>
<text x="1629.0" y="567.5" font-size="17.22" fill="#e9eca2" textLength="45.9" lengthAdjust="spacingAndGlyphs" stroke="#e9eca2" stroke-width="0.3" >GD011</text>
<text x="1629.4" y="596.6" font-size="18.67" fill="#fff" textLength="120.6" lengthAdjust="spacingAndGlyphs" stroke="#fff" stroke-width="0.33" >机顶燃气浓度</text>
<rect x="1805.9" y="577.7" width="39.3" height="23.9" fill="#959595" rx="3" opacity="0.95"/>
<text x="1806.1" y="596.2" font-size="18.22" fill="#fff" textLength="39.5" lengthAdjust="spacingAndGlyphs" stroke="#fff" stroke-width="0.32" >故障</text>
<rect x="1628.8" y="609.7" width="102.7" height="25.8" fill="#3e4040" rx="2" />
<text x="1647.2" y="628.5" font-size="20.14" fill="#26dc26" textLength="28.5" lengthAdjust="spacingAndGlyphs" stroke="#3e4040" stroke-width="0.3" paint-order="fill">0.0</text>
<text x="1734.8" y="628.1" font-size="19.31" fill="#fff" textLength="40.7" lengthAdjust="spacingAndGlyphs" stroke="#fff" stroke-width="0.3" >LEL%</text>
<rect x="1821.1" y="611.1" width="18.6" height="18.9" fill="#f01250" rx="2.5" />
<rect x="1100.2" y="891.9" width="231.7" height="52.1" fill="none" rx="2.5" stroke="#9c9c9c" stroke-width="1.2" opacity="0.75"/>
<rect x="1105.8" y="878.5" width="143.2" height="24.4" fill="#959595" rx="3" opacity="0.95"/>
<text x="1106.7" y="868.8" font-size="17.22" fill="#e9eca2" textLength="45.9" lengthAdjust="spacingAndGlyphs" stroke="#e9eca2" stroke-width="0.3" >GD005</text>
<text x="1107.1" y="897.9" font-size="18.67" fill="#fff" textLength="140.5" lengthAdjust="spacingAndGlyphs" stroke="#fff" stroke-width="0.33" >双壁管燃气浓度</text>
<rect x="1283.6" y="879.0" width="39.3" height="23.9" fill="#959595" rx="3" opacity="0.95"/>
<text x="1283.8" y="897.5" font-size="18.22" fill="#fff" textLength="39.5" lengthAdjust="spacingAndGlyphs" stroke="#fff" stroke-width="0.32" >故障</text>
<rect x="1106.5" y="911.0" width="102.7" height="25.8" fill="#3e4040" rx="2" />
<text x="1119.6" y="929.8" font-size="20.14" fill="#26dc26" textLength="28.5" lengthAdjust="spacingAndGlyphs" stroke="#3e4040" stroke-width="0.3" paint-order="fill">0.0</text>
<text x="1212.5" y="929.4" font-size="19.31" fill="#fff" textLength="40.7" lengthAdjust="spacingAndGlyphs" stroke="#fff" stroke-width="0.3" >LEL%</text>
<rect x="1294.0" y="912.4" width="18.6" height="18.9" fill="#f01250" rx="2.5" />
<rect x="1301.8" y="365.3" width="217.8" height="113.6" fill="none" rx="2.5" stroke="#9c9c9c" stroke-width="1.2" opacity="0.75"/>
<rect x="1314.3" y="353.0" width="153.2" height="25.2" fill="#959595" rx="3" opacity="0.95"/>
<text x="1314.9" y="346.2" font-size="16.53" fill="#e9eca2" textLength="54.8" lengthAdjust="spacingAndGlyphs" stroke="#e9eca2" stroke-width="0.3" >PS020B</text>
<text x="1315.6" y="370.6" font-size="19.44" fill="#fff" textLength="120.3" lengthAdjust="spacingAndGlyphs" stroke="#fff" stroke-width="0.34" >左主机双壁管</text>
<text x="1315.4" y="401.1" font-size="17.44" fill="#fff" textLength="47.4" lengthAdjust="spacingAndGlyphs" stroke="#fff" stroke-width="0.31" >风压:</text>
<rect x="1366.0" y="380.4" width="102.5" height="25.6" fill="#3e4040" rx="2" />
<text x="1376.7" y="399.7" font-size="20.28" fill="#26dc26" textLength="28.1" lengthAdjust="spacingAndGlyphs" stroke="#3e4040" stroke-width="0.3" paint-order="fill">0.0</text>
<text x="1473.0" y="399.3" font-size="14.31" fill="#fff" textLength="39.5" lengthAdjust="spacingAndGlyphs" stroke="#fff" stroke-width="0.3" >mBar</text>
<text x="1315.4" y="431.5" font-size="17.44" fill="#fff" textLength="47.4" lengthAdjust="spacingAndGlyphs" stroke="#fff" stroke-width="0.31" >驱动:</text>
<text x="1315.4" y="461.8" font-size="17.44" fill="#fff" textLength="47.4" lengthAdjust="spacingAndGlyphs" stroke="#fff" stroke-width="0.31" >反馈:</text>
<rect x="1440.7" y="409.9" width="26.3" height="26.0" fill="#747474" rx="2" stroke="#4f4f4f" stroke-width="1.4" />
<rect x="1440.7" y="442.1" width="26.3" height="25.9" fill="#555" rx="2" stroke="#4f4f4f" stroke-width="1.4" />
<rect x="1443.7" y="444.7" width="20.3" height="20.3" fill="#22ee22" rx="1.5" />
<rect x="1301.8" y="531.3" width="217.8" height="113.6" fill="none" rx="2.5" stroke="#9c9c9c" stroke-width="1.2" opacity="0.75"/>
<rect x="1314.3" y="519.0" width="153.2" height="25.2" fill="#959595" rx="3" opacity="0.95"/>
<text x="1314.9" y="512.2" font-size="16.53" fill="#e9eca2" textLength="54.8" lengthAdjust="spacingAndGlyphs" stroke="#e9eca2" stroke-width="0.3" >PS020C</text>
<text x="1323.1" y="536.6" font-size="19.44" fill="#fff" textLength="119.8" lengthAdjust="spacingAndGlyphs" stroke="#fff" stroke-width="0.34" >左辅机双壁管</text>
<text x="1315.4" y="567.1" font-size="17.44" fill="#fff" textLength="47.4" lengthAdjust="spacingAndGlyphs" stroke="#fff" stroke-width="0.31" >风压:</text>
<rect x="1366.0" y="546.4" width="102.5" height="25.6" fill="#3e4040" rx="2" />
<text x="1376.7" y="565.7" font-size="20.28" fill="#26dc26" textLength="28.1" lengthAdjust="spacingAndGlyphs" stroke="#3e4040" stroke-width="0.3" paint-order="fill">0.0</text>
<text x="1473.0" y="565.3" font-size="14.31" fill="#fff" textLength="39.5" lengthAdjust="spacingAndGlyphs" stroke="#fff" stroke-width="0.3" >mBar</text>
<text x="1315.4" y="597.5" font-size="17.44" fill="#fff" textLength="47.4" lengthAdjust="spacingAndGlyphs" stroke="#fff" stroke-width="0.31" >驱动:</text>
<text x="1315.4" y="627.8" font-size="17.44" fill="#fff" textLength="47.4" lengthAdjust="spacingAndGlyphs" stroke="#fff" stroke-width="0.31" >反馈:</text>
<rect x="1440.7" y="575.9" width="26.3" height="26.0" fill="#747474" rx="2" stroke="#4f4f4f" stroke-width="1.4" />
<rect x="1440.7" y="608.1" width="26.3" height="25.9" fill="#555" rx="2" stroke="#4f4f4f" stroke-width="1.4" />
<rect x="1443.7" y="610.7" width="20.3" height="20.3" fill="#22ee22" rx="1.5" />
<rect x="1624.8" y="343.5" width="250.4" height="135.4" fill="none" rx="2.5" stroke="#9c9c9c" stroke-width="1.2" opacity="0.75"/>
<rect x="1642.5" y="330.0" width="160.3" height="24.4" fill="#959595" rx="3" opacity="0.95"/>
<text x="1650.4" y="347.2" font-size="17.44" fill="#fff" textLength="80.3" lengthAdjust="spacingAndGlyphs" stroke="#fff" stroke-width="0.31" >主机状态</text>
<text x="1651.6" y="380.2" font-size="18.00" fill="#fff" textLength="128.6" lengthAdjust="spacingAndGlyphs" stroke="#fff" stroke-width="0.32" >主机点火启动:</text>
<rect x="1831.0" y="363.4" width="19.0" height="20.0" fill="#6a6a6a" rx="3" stroke="#747474" stroke-width="1" />
<text x="1651.6" y="409.4" font-size="18.00" fill="#fff" textLength="88.8" lengthAdjust="spacingAndGlyphs" stroke="#fff" stroke-width="0.32" >主机运行:</text>
<rect x="1831.0" y="393.0" width="19.0" height="20.0" fill="#6a6a6a" rx="3" stroke="#747474" stroke-width="1" />
<text x="1651.6" y="438.9" font-size="18.00" fill="#fff" textLength="128.6" lengthAdjust="spacingAndGlyphs" stroke="#fff" stroke-width="0.32" >主机故障停车:</text>
<rect x="1831.0" y="422.8" width="19.0" height="19.0" fill="#22ee22" rx="2.5" />
<text x="1651.6" y="468.4" font-size="18.00" fill="#fff" textLength="168.4" lengthAdjust="spacingAndGlyphs" stroke="#fff" stroke-width="0.32" >主机手动紧急停车:</text>
<rect x="1831.0" y="452.0" width="19.0" height="19.0" fill="#22ee22" rx="2.5" />
<rect x="1624.8" y="826.0" width="250.4" height="135.4" fill="none" rx="2.5" stroke="#9c9c9c" stroke-width="1.2" opacity="0.75"/>
<rect x="1642.5" y="812.5" width="160.3" height="24.4" fill="#959595" rx="3" opacity="0.95"/>
<text x="1650.4" y="829.7" font-size="17.44" fill="#fff" textLength="80.3" lengthAdjust="spacingAndGlyphs" stroke="#fff" stroke-width="0.31" >辅机状态</text>
<text x="1651.6" y="862.7" font-size="18.00" fill="#fff" textLength="128.6" lengthAdjust="spacingAndGlyphs" stroke="#fff" stroke-width="0.32" >辅机点火启动:</text>
<rect x="1831.0" y="845.9" width="19.0" height="20.0" fill="#6a6a6a" rx="3" stroke="#747474" stroke-width="1" />
<text x="1651.6" y="891.9" font-size="18.00" fill="#fff" textLength="88.8" lengthAdjust="spacingAndGlyphs" stroke="#fff" stroke-width="0.32" >辅机运行:</text>
<rect x="1831.0" y="875.5" width="19.0" height="20.0" fill="#6a6a6a" rx="3" stroke="#747474" stroke-width="1" />
<text x="1651.6" y="921.4" font-size="18.00" fill="#fff" textLength="128.6" lengthAdjust="spacingAndGlyphs" stroke="#fff" stroke-width="0.32" >辅机故障停车:</text>
<rect x="1831.0" y="905.3" width="19.0" height="19.0" fill="#22ee22" rx="2.5" />
<text x="1651.6" y="950.9" font-size="18.00" fill="#fff" textLength="168.4" lengthAdjust="spacingAndGlyphs" stroke="#fff" stroke-width="0.32" >辅机手动紧急停车:</text>
<rect x="1831.0" y="934.5" width="19.0" height="19.0" fill="#22ee22" rx="2.5" />
<path d="M146.1,435.0 L160.7,435.0 L160.7,427.8 L173.1,442.0 L160.7,456.2 L160.7,449.0 L146.1,449.0 Z" fill="none" stroke="#a4a7a4" stroke-width="1.1" opacity="0.28"/>
<path d="M146.5,259.0 L161.1,259.0 L161.1,251.8 L173.5,266.0 L161.1,280.2 L161.1,273.0 L146.5,273.0 Z" fill="none" stroke="#a4a7a4" stroke-width="1.1" opacity="0.28"/>
<path d="M148.5,564.0 L163.1,564.0 L163.1,556.8 L175.5,571.0 L163.1,585.2 L163.1,578.0 L148.5,578.0 Z" fill="none" stroke="#a4a7a4" stroke-width="1.1" opacity="0.28"/>
<path d="M458.5,259.0 L443.9,259.0 L443.9,251.8 L431.5,266.0 L443.9,280.2 L443.9,273.0 L458.5,273.0 Z" fill="none" stroke="#a4a7a4" stroke-width="1.1" opacity="0.28"/>
<path d="M573.0,367.5 L573.0,352.9 L565.8,352.9 L580.0,340.5 L594.2,352.9 L587.0,352.9 L587.0,367.5 Z" fill="none" stroke="#a4a7a4" stroke-width="1.1" opacity="0.28"/>
<path d="M557.9,507.5 L572.5,507.5 L572.5,500.2 L584.9,514.5 L572.5,528.8 L572.5,521.5 L557.9,521.5 Z" fill="none" stroke="#a4a7a4" stroke-width="1.1" opacity="0.28"/>
<path d="M294.0,286.5 L294.0,301.1 L286.8,301.1 L301.0,313.5 L315.2,301.1 L308.0,301.1 L308.0,286.5 Z" fill="none" stroke="#a4a7a4" stroke-width="1.1" opacity="0.28"/>
<path d="M390.5,726.5 L390.5,741.1 L383.2,741.1 L397.5,753.5 L411.8,741.1 L404.5,741.1 L404.5,726.5 Z" fill="none" stroke="#a4a7a4" stroke-width="1.1" opacity="0.28"/>
<path d="M450.0,784.5 L450.0,769.9 L442.8,769.9 L457.0,757.5 L471.2,769.9 L464.0,769.9 L464.0,784.5 Z" fill="none" stroke="#a4a7a4" stroke-width="1.1" opacity="0.28"/>
<path d="M1025.5,257.5 L1040.1,257.5 L1040.1,250.2 L1052.5,264.5 L1040.1,278.8 L1040.1,271.5 L1025.5,271.5 Z" fill="none" stroke="#a4a7a4" stroke-width="1.1" opacity="0.28"/>
<path d="M1026.0,757.5 L1040.6,757.5 L1040.6,750.2 L1053.0,764.5 L1040.6,778.8 L1040.6,771.5 L1026.0,771.5 Z" fill="none" stroke="#a4a7a4" stroke-width="1.1" opacity="0.28"/>
<path d="M923.0,419.5 L923.0,404.9 L915.8,404.9 L930.0,392.5 L944.2,404.9 L937.0,404.9 L937.0,419.5 Z" fill="none" stroke="#a4a7a4" stroke-width="1.1" opacity="0.28"/>
<path d="M923.0,609.5 L923.0,624.1 L915.8,624.1 L930.0,636.5 L944.2,624.1 L937.0,624.1 L937.0,609.5 Z" fill="none" stroke="#a4a7a4" stroke-width="1.1" opacity="0.28"/></svg></body></html>
